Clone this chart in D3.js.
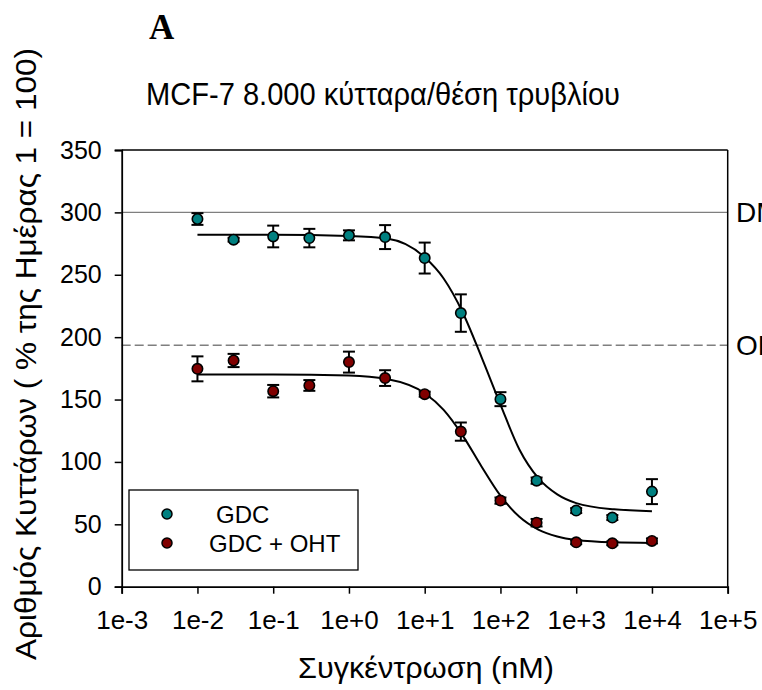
<!DOCTYPE html>
<html>
<head>
<meta charset="utf-8">
<script src="https://cdn.jsdelivr.net/npm/d3@7"></script>
<style>
  html, body { margin: 0; padding: 0; background: #fff; }
  svg { display: block; }
  text { fill: #000; }
</style>
</head>
<body>
<svg id="chart" width="762" height="690"></svg>
<script>
// ---------- data ----------
const concentrations = [1e-2, 3e-2, 1e-1, 3e-1, 1e0, 3e0, 1e1, 3e1, 1e2, 3e2, 1e3, 3e3, 1e4];
const gdcMean   = [294.7, 278.1, 280.7, 279.4, 281.6, 280.2, 263.4, 219.3, 150.3, 85.0, 61.0, 55.4, 76.2];
const gdcErr    = [4.7, 1.5, 8.7, 7.4, 4.0, 9.6, 12.4, 15.0, 5.6, 2.5, 2.0, 2.0, 10.0];
const ohtMean   = [174.6, 181.3, 156.7, 161.3, 180.0, 167.2, 154.3, 124.3, 69.0, 51.3, 35.6, 34.8, 36.7];
const ohtErr    = [10.0, 5.3, 5.0, 4.3, 8.4, 6.3, 2.0, 7.3, 2.5, 3.0, 1.5, 1.5, 2.0];

// fitted curves
const fitConc   = [1e-2, 1e-1, 1e0, 3.162, 1e1, 17.78, 31.62, 56.23, 1e2, 177.8, 316.2, 562.3, 1e3, 3162, 1e4];
const gdcFit    = [282, 282, 281, 279, 264, 247, 220, 184, 146, 110, 87, 74, 67, 62, 60.5];
const ohtFit    = [170, 170, 169.2, 166.4, 155, 141.7, 121.3, 96.4, 73, 56, 45.8, 40.3, 37.5, 35.6, 35.1];

const refValues = [300, 193.5];
const refLabels = ["DMSO", "OHT"];

const xTicks = [1e-3, 1e-2, 1e-1, 1e0, 1e1, 1e2, 1e3, 1e4, 1e5];
const xTickLabels = ["1e-3", "1e-2", "1e-1", "1e+0", "1e+1", "1e+2", "1e+3", "1e+4", "1e+5"];
const yTicks = [0, 50, 100, 150, 200, 250, 300, 350];

const seriesNames = ["GDC", "GDC + OHT"];
const seriesColors = ["#008080", "#800000"];

const titleText = "MCF-7 8.000 κύτταρα/θέση τρυβλίου";
const xTitle = "Συγκέντρωση (nM)";
const yTitle = "Αριθμός Κυττάρων ( % της Ημέρας 1 = 100)";
const panelLabel = "A";

// ---------- layout ----------
const SANS = "'Liberation Sans', Arial, sans-serif";
const svg = d3.select("#chart").style("font-family", SANS);
const L = 121.7, R = 727.7, T = 150, B = 586.7;

const x = d3.scaleLog().domain([1e-3, 1e5]).range([L, R]);
const y = d3.scaleLinear().domain([0, 350]).range([B, T]);

// reference lines
const refG = svg.append("g");
refValues.forEach((v, i) => {
  refG.append("line")
    .attr("x1", L).attr("x2", R)
    .attr("y1", y(v)).attr("y2", y(v))
    .attr("stroke", "#7f7f7f").attr("stroke-width", 1.4)
    .attr("stroke-dasharray", i === 1 ? "9,4" : null);
  refG.append("text")
    .attr("x", 736).attr("y", y(v) + 9.5)
    .style("font-family", SANS).style("font-size", "28px")
    .text(refLabels[i]);
});

// frame (top & right)
svg.append("line").attr("x1", L).attr("x2", R).attr("y1", T).attr("y2", T)
  .attr("stroke", "#000").attr("stroke-width", 1.5);
svg.append("line").attr("x1", R).attr("x2", R).attr("y1", T).attr("y2", B)
  .attr("stroke", "#000").attr("stroke-width", 1.5);

// axes
const xAxis = d3.axisBottom(x).tickValues(xTicks)
  .tickFormat((d, i) => xTickLabels[i]).tickSizeOuter(0).tickSize(7).tickPadding(17);
const gx = svg.append("g").attr("transform", `translate(0,${B})`).call(xAxis);
gx.select(".domain").attr("stroke", "#000").attr("stroke-width", 1.8);
gx.selectAll(".tick line").attr("stroke", "#000").attr("stroke-width", 1.5);
gx.selectAll(".tick text").style("font-size", "26px").style("font-family", SANS);

const yAxis = d3.axisLeft(y).tickValues(yTicks).tickSizeOuter(0).tickSize(7).tickPadding(13);
const gy = svg.append("g").attr("transform", `translate(${L},0)`).call(yAxis);
gy.select(".domain").attr("stroke", "#000").attr("stroke-width", 1.8);
gy.selectAll(".tick line").attr("stroke", "#000").attr("stroke-width", 1.5);
gy.selectAll(".tick text").style("font-size", "25px").style("font-family", SANS);

// fitted curves
const line = d3.line().x(d => x(d[0])).y(d => y(d[1])).curve(d3.curveMonotoneX);
[gdcFit, ohtFit].forEach(vals => {
  svg.append("path")
    .datum(fitConc.map((c, i) => [c, vals[i]]))
    .attr("d", line)
    .attr("fill", "none").attr("stroke", "#000").attr("stroke-width", 2);
});

// error bars + points
const series = [
  { mean: gdcMean, err: gdcErr, color: seriesColors[0] },
  { mean: ohtMean, err: ohtErr, color: seriesColors[1] }
];
series.forEach(s => {
  const g = svg.append("g");
  const data = concentrations.map((c, i) => ({ c, m: s.mean[i], e: s.err[i] }));
  const eb = g.selectAll(".eb").data(data).enter().append("g")
    .attr("stroke", "#000").attr("stroke-width", 2);
  eb.append("line").attr("x1", d => x(d.c)).attr("x2", d => x(d.c))
    .attr("y1", d => y(d.m + d.e)).attr("y2", d => y(d.m - d.e));
  eb.append("line").attr("x1", d => x(d.c) - 6).attr("x2", d => x(d.c) + 6)
    .attr("y1", d => y(d.m + d.e)).attr("y2", d => y(d.m + d.e));
  eb.append("line").attr("x1", d => x(d.c) - 6).attr("x2", d => x(d.c) + 6)
    .attr("y1", d => y(d.m - d.e)).attr("y2", d => y(d.m - d.e));
  g.selectAll("circle").data(data).enter().append("circle")
    .attr("cx", d => x(d.c)).attr("cy", d => y(d.m)).attr("r", 5.2)
    .attr("fill", s.color).attr("stroke", "#000").attr("stroke-width", 1.6);
});

// legend
const lg = svg.append("g");
lg.append("rect").attr("x", 129).attr("y", 490).attr("width", 229).attr("height", 80)
  .attr("fill", "#fff").attr("stroke", "#000").attr("stroke-width", 1.3);
const legendY = [514, 543];
const legendTextX = [216, 209];
seriesNames.forEach((n, i) => {
  lg.append("circle").attr("cx", 167).attr("cy", legendY[i]).attr("r", 5)
    .attr("fill", seriesColors[i]).attr("stroke", "#000").attr("stroke-width", 1.5);
  lg.append("text").attr("x", legendTextX[i]).attr("y", legendY[i] + 9)
    .style("font-family", SANS).style("font-size", "24px").text(n);
});

// titles
svg.append("text").attr("x", 146).attr("y", 105)
  .style("font-family", SANS).style("font-size", "31px")
  .attr("textLength", 474).attr("lengthAdjust", "spacingAndGlyphs")
  .text(titleText);
svg.append("text").attr("x", 426).attr("y", 678).attr("text-anchor", "middle")
  .style("font-family", SANS).style("font-size", "30px")
  .attr("textLength", 256).attr("lengthAdjust", "spacingAndGlyphs")
  .text(xTitle);
svg.append("text").attr("transform", "translate(36,354) rotate(-90)")
  .attr("text-anchor", "middle")
  .style("font-family", SANS).style("font-size", "30px")
  .attr("textLength", 612).attr("lengthAdjust", "spacingAndGlyphs")
  .text(yTitle);
svg.append("text").attr("x", 149).attr("y", 39)
  .style("font-family", "'Liberation Serif', 'Times New Roman', serif")
  .style("font-weight", "bold").style("font-size", "35px").text(panelLabel);
</script>
</body>
</html>
